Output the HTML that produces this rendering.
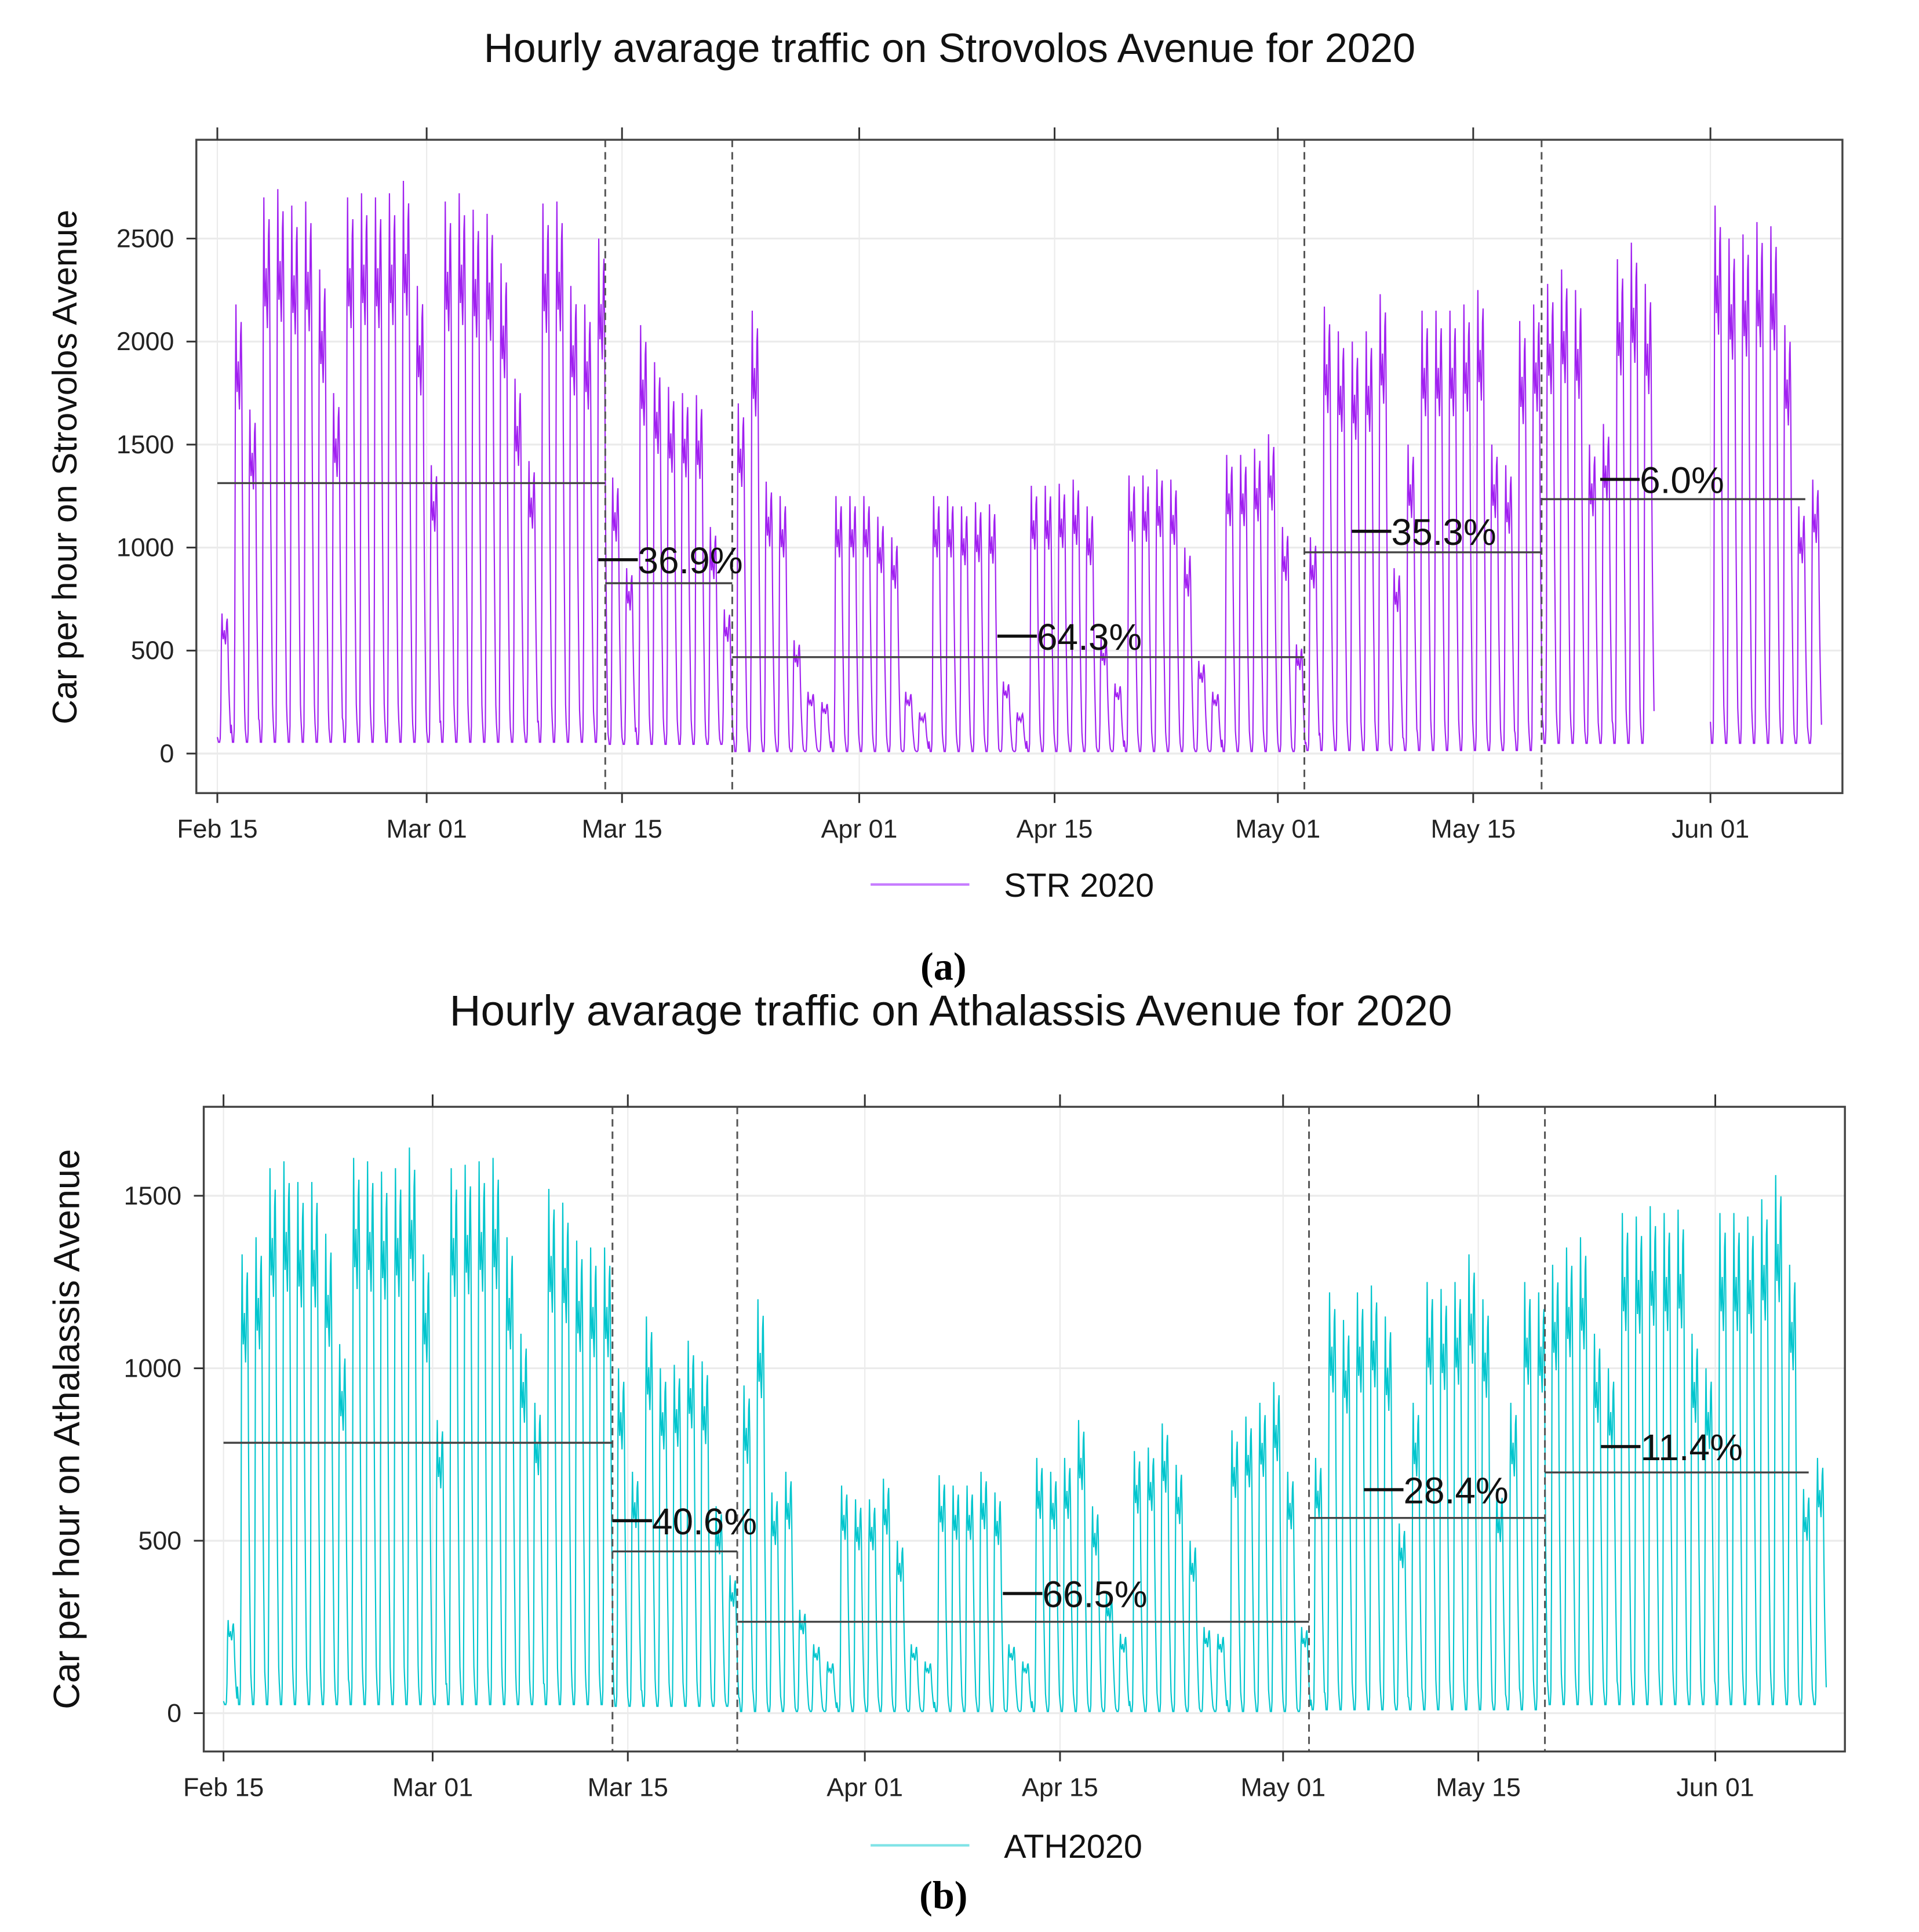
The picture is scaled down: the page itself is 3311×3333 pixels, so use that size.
<!DOCTYPE html>
<html><head><meta charset="utf-8"><style>
html,body{margin:0;padding:0;background:#fff}
svg{display:block}
text{font-family:"Liberation Sans",Arial,sans-serif}
</style></head><body>
<svg id="fig" width="3311" height="3333" viewBox="0 0 1554 1564" xmlns="http://www.w3.org/2000/svg"></svg>
<script>
// ---- data ----
const tickLabels = ["Feb 15","Mar 01","Mar 15","Apr 01","Apr 15","May 01","May 15","Jun 01"];
const tickDays = [0,15,29,46,60,76,90,107];
const strPeaks = [680,2180,1670,2700,2740,2660,2680,2350,1750,
 2700,2720,2700,2720,2780,2270,1400,
 2680,2720,2640,2620,2380,1820,1420,
 2670,2680,2270,2180,2500,1340,900,
 2080,1900,1780,1750,1740,1100,700,
 1700,2150,1320,1250,550,300,250,
 1250,1250,1250,1150,1050,300,200,
 1250,1250,1200,1220,1210,350,200,
 1300,1300,1310,1330,1200,560,340,
 1350,1350,1380,1330,1000,450,300,
 1450,1450,1480,1550,1100,530,1050,
 2170,2050,2000,2050,2230,900,1500,
 2150,2150,2150,2180,2250,1500,1400,
 2100,2180,2280,2350,2250,1500,1600,
 2400,2480,2280,null,null,null,null,
 2660,2500,2520,2580,2560,2080,1200,1330];
const athPeaks = [270,1330,1380,1580,1600,1540,1540,1390,1070,
 1610,1600,1570,1580,1640,1330,850,
 1580,1590,1600,1610,1380,1100,900,
 1520,1480,1370,1350,1350,1000,700,
 1150,1000,1010,1080,1020,600,400,
 950,1200,640,700,300,200,150,
 660,620,620,680,500,200,150,
 690,660,660,700,640,200,150,
 740,700,740,850,600,350,230,
 760,770,840,720,500,250,230,
 820,860,900,960,700,250,740,
 1220,1140,1220,1240,1150,550,900,
 1250,1230,1250,1330,1200,650,900,
 1250,1220,1300,1350,1380,1100,1000,
 1450,1440,1470,1450,1460,1100,1000,
 1450,1450,1440,1490,1560,1300,650,740];
const strBounds = [0,27.8,36.9,77.9,94.9,113.8];
const strMeans = [1313,827,468,977,1235];
const strTroughs = [55,45,10,15,50];
const strLabels = ["36.9%","64.3%","35.3%","6.0%"];
const strLabelDays = [27.3,55.9,81.3,99.1];
const strLabelVals = [941,570,1079,1331];
const athBounds = [0,27.9,36.85,77.86,94.78,113.7];
const athMeans = [784,469,265,566,698];
const athTroughs = [25,20,5,10,25];
const athLabels = ["40.6%","66.5%","28.4%","11.4%"];
const athLabelDays = [27.9,55.9,81.8,98.8];
const athLabelVals = [558,347,648,773];
const strYTicks = [0,500,1000,1500,2000,2500];
const athYTicks = [0,500,1000,1500];
// daily shape (fraction of the day's peak by hour)
const profile = [0.04,0.02,0,0,0,0.03,0.25,0.8,1.0,0.85,0.8,0.83,0.87,0.8,0.76,0.82,0.93,0.96,0.84,0.58,0.4,0.27,0.16,0.07];

const NS="http://www.w3.org/2000/svg";
const svg=document.getElementById('fig');
function mk(tag,attrs,parent){const e=document.createElementNS(NS,tag);for(const k in attrs)e.setAttribute(k,attrs[k]);(parent||svg).appendChild(e);return e;}

function chart(c){
  const g=mk('g',{});
  
  
  const X=d=>c.x0+d*c.dx, Y=v=>c.y0-v*c.dy;
  const t=mk('text',{x:c.titleX,y:c.titleY,'font-size':c.titleSize,'text-anchor':'middle',fill:'#111'},g);t.textContent=c.title;
  
  tickDays.forEach(d=>{const l=mk('line',{x1:X(d),x2:X(d),y1:c.top,y2:c.bot,stroke:'#ebebeb','stroke-width':1},g);
    });
  c.yTicks.forEach(v=>{const l=mk('line',{x1:c.left,x2:c.right,y1:Y(v),y2:Y(v),stroke:'#ebebeb','stroke-width':1.5},g);
    });
  const cp='clip-'+c.name;
  const cl=mk('clipPath',{id:cp},g);mk('rect',{x:c.left,y:c.top,width:c.right-c.left,height:c.bot-c.top},cl);
  let d='';let pen=false;
  c.peaks.forEach((p,i)=>{
    if(p===null){pen=false;return;}
    let seg=0;for(let s=0;s<c.bounds.length-1;s++)if(i>=c.bounds[s])seg=s;
    const tr=c.troughs[seg];
    profile.forEach((f,h)=>{const v=tr+(p-tr)*f;d+=(pen?'L':'M')+X(i+h/24).toFixed(2)+' '+Y(v).toFixed(2);pen=true;});
  });
  const path=mk('path',{d:d,fill:'none',stroke:c.color,'stroke-width':1,'clip-path':'url(#'+cp+')'},g);
  
  c.bounds.slice(1,-1).forEach(b=>{const l=mk('line',{x1:X(b),x2:X(b),y1:c.top,y2:c.bot,stroke:'#555','stroke-width':1.4,'stroke-dasharray':'6,4'},g);
    });
  c.means.forEach((m,i)=>{const l=mk('line',{x1:X(c.bounds[i]),x2:X(c.bounds[i+1]),y1:Y(m),y2:Y(m),stroke:'#444','stroke-width':1.6},g);
    });
  c.labels.forEach((s,i)=>{const x=X(c.labelDays[i]),y=Y(c.labelVals[i]);
    const l=mk('line',{x1:x,x2:x+32,y1:y,y2:y,stroke:'#111','stroke-width':2.5},g);
    
    const tx=mk('text',{x:x+32,y:y+11,'font-size':30,fill:'#111'},g);tx.textContent=s;
    });
  const r=mk('rect',{x:c.left,y:c.top,width:c.right-c.left,height:c.bot-c.top,fill:'none',stroke:'#444','stroke-width':1.6},g);
  
  tickDays.forEach((dd,i)=>{const x=X(dd);
    mk('line',{x1:x,x2:x,y1:c.top-10,y2:c.top,stroke:'#333','stroke-width':1.4},g);
    mk('line',{x1:x,x2:x,y1:c.bot,y2:c.bot+8,stroke:'#333','stroke-width':1.4},g);
    const tx=mk('text',{x:x,y:c.bot+36,'font-size':21,'text-anchor':'middle',fill:'#222'},g);tx.textContent=tickLabels[i];
    });
  c.yTicks.forEach(v=>{const y=Y(v);
    mk('line',{x1:c.left-8,x2:c.left,y1:y,y2:y,stroke:'#333','stroke-width':1.4},g);
    const tx=mk('text',{x:c.left-18,y:y+7,'font-size':21,'text-anchor':'end',fill:'#222'},g);tx.textContent=v;
    });
  const yt=mk('text',{x:0,y:0,'font-size':c.yTitleSize,'text-anchor':'middle',fill:'#111',transform:'translate('+c.yTitleX+','+c.yTitleY+') rotate(-90)'},g);
  yt.textContent=c.yTitle;
  const lg=mk('g',{},g);
  mk('line',{x1:c.legX,x2:c.legX+80,y1:c.legY,y2:c.legY,stroke:c.legColor,'stroke-width':2},lg);
  const lt=mk('text',{x:c.legX+108,y:c.legY+10,'font-size':27,fill:'#111'},lg);lt.textContent=c.legText;
  
  const cap=mk('text',{x:764,y:c.capY,'font-size':32,'font-weight':'bold','text-anchor':'middle',fill:'#000',style:'font-family:"Liberation Serif",serif'},g);
  cap.textContent=c.cap;
}

chart({name:'strovolos-chart',title:'Hourly avarage traffic on Strovolos Avenue for 2020',titleX:769,titleY:50,titleSize:33,
  left:159,right:1492,top:113,bot:642,x0:176,dx:11.3,y0:610,dy:0.1668,color:'#a020f0',
  peaks:strPeaks,bounds:strBounds,means:strMeans,troughs:strTroughs,labels:strLabels,labelDays:strLabelDays,labelVals:strLabelVals,
  yTicks:strYTicks,yTitle:'Car per hour on Strovolos Avenue',yTitleSize:27.7,yTitleX:62,yTitleY:378,legX:705,legY:716,legColor:'#c77dff',legText:'STR 2020',cap:'(a)',capY:793});
chart({name:'athalassis-chart',title:'Hourly avarage traffic on Athalassis Avenue for 2020',titleX:770,titleY:830,titleSize:35,
  left:165,right:1494,top:896,bot:1418,x0:181,dx:11.29,y0:1387,dy:0.2793,color:'#00c5cd',
  peaks:athPeaks,bounds:athBounds,means:athMeans,troughs:athTroughs,labels:athLabels,labelDays:athLabelDays,labelVals:athLabelVals,
  yTicks:athYTicks,yTitle:'Car per hour on Athalassis Avenue',yTitleSize:29.5,yTitleX:64,yTitleY:1157,legX:705,legY:1494,legColor:'#7fe3e6',legText:'ATH2020',cap:'(b)',capY:1545});
</script>
</body></html>
